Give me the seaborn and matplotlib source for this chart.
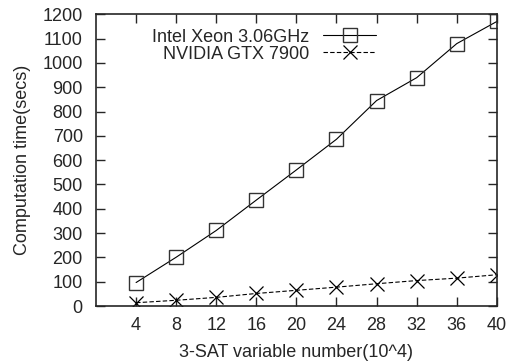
import numpy as np
import pandas as pd
import matplotlib
matplotlib.use('Agg')
import matplotlib.pyplot as plt
import seaborn as sns

# data
variables = [4, 8, 12, 16, 20, 24, 28, 32, 36, 40]
intel_secs = [97, 201, 311, 436, 560, 686, 845, 939, 1079, 1170]
nvidia_secs = [14, 24, 36, 52, 65, 78, 92, 105, 115, 129]
series_names = ['Intel Xeon 3.06GHz', 'NVIDIA GTX 7900']
x_ticks = [4, 8, 12, 16, 20, 24, 28, 32, 36, 40]
y_ticks = list(range(0, 1201, 100))

FS = 13

sns.set_style('ticks')
plt.rcParams['font.family'] = ['Liberation Sans', 'DejaVu Sans']
plt.rcParams['font.size'] = FS

fig = plt.figure(figsize=(5.08, 3.64), dpi=100)
ax = fig.add_axes([0.189, 0.159, 0.789, 0.802])

# Intel: solid line, open squares
sns.lineplot(x=variables, y=intel_secs, color='black', linewidth=0.8,
             marker='s', markersize=10, markerfacecolor='none',
             markeredgecolor='#333333', markeredgewidth=1.0,
             label=series_names[0], ax=ax)
# NVIDIA: dashed line, crosses
sns.lineplot(x=variables, y=nvidia_secs, color='black', linewidth=0.8,
             linestyle=(0, (4, 2)), marker='x', markersize=10,
             markeredgecolor='black', markeredgewidth=0.9,
             label=series_names[1], ax=ax)

ax.set_xlim(0, 40)
ax.set_ylim(0, 1200)
ax.set_xticks(x_ticks)
ax.set_yticks(y_ticks)
ax.tick_params(direction='in', length=6.5, width=1, top=True, right=True,
               labelsize=FS)
ax.tick_params(axis='y', pad=9.5)
ax.tick_params(axis='x', pad=8)
for s in ax.spines.values():
    s.set_linewidth(1.2)
ax.set_xlabel('3-SAT variable number(10^4)', fontsize=FS, labelpad=7)
ax.set_ylabel('Computation time(secs)', fontsize=FS, labelpad=8)

leg = ax.legend(loc='upper right', bbox_to_anchor=(0.725, 0.988),
                frameon=False, markerfirst=False, handlelength=2.9,
                labelspacing=0.0, borderaxespad=0.2, handletextpad=0.8,
                fontsize=FS)

fig.savefig('out.png', dpi=100)
